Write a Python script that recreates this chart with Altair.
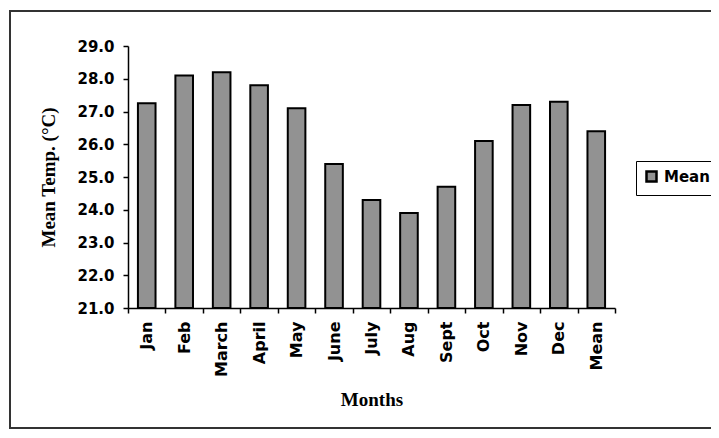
import altair as alt
import pandas as pd

months = ["Jan", "Feb", "March", "April", "May", "June", "July",
          "Aug", "Sept", "Oct", "Nov", "Dec", "Mean"]
temps = [27.25, 28.1, 28.2, 27.8, 27.1, 25.4, 24.3,
         23.9, 24.7, 26.1, 27.2, 27.3, 26.4]
series = ["Mean"] * len(months)
y_ticks = [21.0, 22.0, 23.0, 24.0, 25.0, 26.0, 27.0, 28.0, 29.0]
y_base = 21.0

df = pd.DataFrame({"Month": months, "Temp": temps, "Series": series})

SANS = "DejaVu Sans"
SERIF = "Liberation Serif"

bars = alt.Chart(df).mark_bar(
    stroke="black", strokeWidth=2, width={"band": 0.47}
).encode(
    x=alt.X(
        "Month:N", sort=months,
        scale=alt.Scale(paddingInner=0, paddingOuter=0),
        axis=alt.Axis(
            title="Months", labelAngle=-90, tickBand="extent",
            labelFont=SANS, labelFontWeight="bold", labelFontSize=16,
            labelColor="black", labelPadding=8,
            tickColor="black", tickSize=5, tickWidth=1.5,
            domainColor="black", domainWidth=1.5,
            titleFont=SERIF, titleFontWeight="bold", titleFontSize=19,
            titleColor="black", titlePadding=14,
        ),
    ),
    y=alt.Y(
        "Temp:Q",
        scale=alt.Scale(domain=[21, 29], zero=False, nice=False),
        axis=alt.Axis(
            title="Mean Temp. (°C)", values=y_ticks, format=".1f", grid=False,
            labelFont=SANS, labelFontWeight="bold", labelFontSize=15,
            labelColor="black", labelPadding=9,
            tickColor="black", tickSize=5, tickWidth=1.5,
            domainColor="black", domainWidth=1.5,
            titleFont=SERIF, titleFontWeight="bold", titleFontSize=19,
            titleColor="black", titlePadding=18,
        ),
    ),
    y2=alt.datum(y_base),
    color=alt.Color(
        "Series:N",
        scale=alt.Scale(domain=["Mean"], range=["#929292"]),
        legend=alt.Legend(
            title=None, orient="none", legendX=508, legendY=115,
            symbolType="square", symbolSize=100, symbolStrokeColor="black",
            symbolStrokeWidth=2.5, labelFont=SANS, labelFontWeight="bold",
            labelFontSize=15, labelColor="black", labelOffset=5,
            strokeColor="black", padding=8,
        ),
    ),
)

frame = alt.Chart(pd.DataFrame({"f": [0]})).mark_rect(
    fillOpacity=0, stroke="#333333", strokeWidth=2
).encode(
    x=alt.value(-118), x2=alt.value(600),
    y=alt.value(-35), y2=alt.value(382),
)

chart = alt.layer(frame, bars).properties(
    width=487, height=262,
    autosize=alt.AutoSizeParams(type="none"),
    padding={"left": 120, "top": 38, "right": 96, "bottom": 122},
    background="white",
).configure_view(strokeWidth=0)

chart.save("out.html", embed_options={"renderer": "svg", "actions": False})
